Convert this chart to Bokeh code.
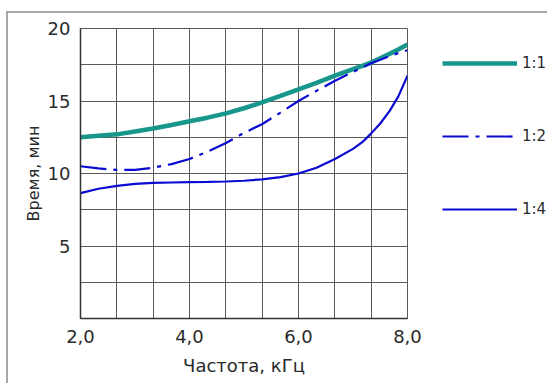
import numpy as np
from bokeh.plotting import figure
from bokeh.models import (FixedTicker, Grid, Legend, LegendItem,
                          ColumnDataSource, InlineStyleSheet)
from bokeh.embed import file_html
from bokeh.resources import INLINE

# ---- data ----
freq = [2.0, 2.33, 2.67, 3.0, 3.33, 3.67, 4.0, 4.33, 4.67, 5.0,
        5.33, 5.67, 6.0, 6.33, 6.67, 7.0, 7.17, 7.33, 7.5, 7.67, 7.83, 8.0]
t_11 = [12.5, 12.6, 12.7, 12.9, 13.1, 13.35, 13.6, 13.85, 14.15, 14.5,
        14.9, 15.35, 15.8, 16.25, 16.75, 17.2, 17.42, 17.65, 17.95, 18.25, 18.55, 18.9]
t_12 = [10.5, 10.35, 10.25, 10.25, 10.4, 10.65, 11.0, 11.5, 12.1, 12.8,
        13.4, 14.2, 15.0, 15.7, 16.4, 17.0, 17.3, 17.6, 17.85, 18.1, 18.3, 18.5]
t_14 = [8.65, 8.95, 9.15, 9.28, 9.35, 9.38, 9.4, 9.42, 9.45, 9.5,
        9.6, 9.75, 10.0, 10.4, 11.0, 11.7, 12.16, 12.75, 13.45, 14.3, 15.3, 16.75]
series_names = ["1:1", "1:2", "1:4"]
x_ticks = [2.0, 4.0, 6.0, 8.0]
x_tick_labels = ["2,0", "4,0", "6,0", "8,0"]
y_ticks = [5, 10, 15, 20]
y_tick_labels = ["5", "10", "15", "20"]
x_title = "Частота, кГц"
y_title = "Время, мин"

FONT = "DejaVu Sans"
TXT = "#2a2a2a"
GRID = "#5a5a5a"

p = figure(frame_width=327, frame_height=290, output_backend="svg",
           toolbar_location=None,
           x_range=(2.0, 8.0), y_range=(0, 20),
           min_border_left=80, min_border_right=0,
           min_border_top=28, min_border_bottom=65)
p.background_fill_color = "white"
p.border_fill_color = "white"
p.outline_line_color = GRID
p.outline_line_width = 1

# grids
p.xgrid.visible = False
p.ygrid.visible = False
xg = Grid(dimension=0, ticker=FixedTicker(ticks=list(np.linspace(2, 8, 10))),
          grid_line_color=GRID, grid_line_width=1)
yg = Grid(dimension=1, ticker=FixedTicker(ticks=list(np.arange(0, 20.01, 2.5))),
          grid_line_color=GRID, grid_line_width=1)
p.add_layout(xg)
p.add_layout(yg)

# axes
for ax in (p.xaxis[0], p.yaxis[0]):
    ax.major_tick_line_color = None
    ax.minor_tick_line_color = None
    ax.axis_line_color = "#333333"
    ax.axis_line_width = 1.5
    ax.major_label_text_font = FONT
    ax.major_label_text_font_size = "18px"
    ax.major_label_text_color = TXT
    ax.axis_label_text_font = FONT
    ax.axis_label_text_font_style = "normal"
    ax.axis_label_text_color = TXT

p.xaxis.ticker = FixedTicker(ticks=x_ticks)
p.xaxis.major_label_overrides = {t: l for t, l in zip(x_ticks, x_tick_labels)}
p.yaxis.ticker = FixedTicker(ticks=y_ticks)
p.yaxis.major_label_overrides = {t: l for t, l in zip(y_ticks, y_tick_labels)}
p.xaxis.axis_label = x_title
p.yaxis.axis_label = y_title
p.xaxis.axis_label_text_font_size = "18px"
p.yaxis.axis_label_text_font_size = "16px"
p.xaxis.major_label_standoff = 5
p.yaxis.major_label_standoff = 4
p.xaxis.axis_label_standoff = 9
p.yaxis.axis_label_standoff = 2

# lines
src = ColumnDataSource(dict(x=freq, a=t_11, b=t_12, c=t_14))
r1 = p.line("x", "a", source=src, line_color="#17978b", line_width=4.5)
r2 = p.line("x", "b", source=src, line_color="#0a0ad2", line_width=2.2,
            line_dash="26 7 4 7")
r3 = p.line("x", "c", source=src, line_color="#0a0ad2", line_width=2.2)

legend = Legend(items=[LegendItem(label=series_names[0], renderers=[r1]),
                       LegendItem(label=series_names[1], renderers=[r2]),
                       LegendItem(label=series_names[2], renderers=[r3])],
                location=(35, 99), margin=0, padding=0,
                glyph_width=75, glyph_height=20, label_height=20,
                spacing=53, label_standoff=5,
                label_text_font=FONT, label_text_font_size="15px",
                label_text_color=TXT,
                background_fill_alpha=0, border_line_color=None)
p.add_layout(legend, "right")

# outer light-grey frame (page decoration)
p.stylesheets = [InlineStyleSheet(css=(
    ":host::after { content: ''; position: absolute; left: 6px; top: 11px;"
    " width: 600px; height: 500px; border: 2px solid #a8a8a8;"
    " pointer-events: none; box-sizing: border-box; }"))]

open("out.html", "w").write(file_html(p, INLINE))
